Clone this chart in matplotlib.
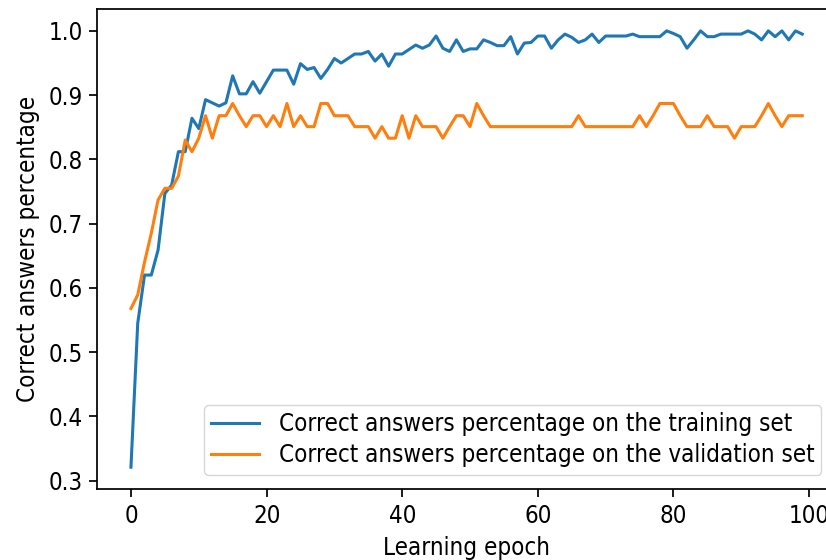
import matplotlib
matplotlib.use("Agg")
import matplotlib.pyplot as plt
from matplotlib import font_manager as fm

# 학습 곡선 값
epochs = list(range(100))
train_acc = [0.321, 0.545, 0.620, 0.620, 0.659, 0.747, 0.760, 0.812, 0.812, 0.864,
             0.848, 0.893, 0.888, 0.883, 0.888, 0.930, 0.902, 0.902, 0.921, 0.903,
             0.921, 0.939, 0.939, 0.939, 0.917, 0.949, 0.940, 0.943, 0.926, 0.940,
             0.957, 0.950, 0.957, 0.964, 0.964, 0.968, 0.953, 0.964, 0.945, 0.964,
             0.964, 0.971, 0.978, 0.973, 0.978, 0.992, 0.973, 0.968, 0.986, 0.968,
             0.972, 0.972, 0.986, 0.982, 0.977, 0.977, 0.991, 0.964, 0.981, 0.982,
             0.992, 0.992, 0.973, 0.986, 0.995, 0.990, 0.982, 0.986, 0.995, 0.982,
             0.992, 0.992, 0.992, 0.992, 0.995, 0.991, 0.991, 0.991, 0.991, 1.000,
             0.996, 0.991, 0.973, 0.986, 1.000, 0.991, 0.991, 0.995, 0.995, 0.995,
             0.995, 1.000, 0.995, 0.986, 1.000, 0.991, 1.000, 0.986, 1.000, 0.995]
val_acc = [0.568, 0.589, 0.640, 0.685, 0.737, 0.755, 0.755, 0.774, 0.830, 0.812,
           0.833, 0.868, 0.833, 0.868, 0.868, 0.887, 0.868, 0.851, 0.868, 0.868,
           0.851, 0.868, 0.851, 0.887, 0.851, 0.868, 0.851, 0.851, 0.887, 0.887,
           0.868, 0.868, 0.868, 0.851, 0.851, 0.851, 0.833, 0.851, 0.833, 0.833,
           0.868, 0.833, 0.868, 0.851, 0.851, 0.851, 0.833, 0.851, 0.868, 0.868,
           0.851, 0.887, 0.868, 0.851, 0.851, 0.851, 0.851, 0.851, 0.851, 0.851,
           0.851, 0.851, 0.851, 0.851, 0.851, 0.851, 0.868, 0.851, 0.851, 0.851,
           0.851, 0.851, 0.851, 0.851, 0.851, 0.868, 0.851, 0.868, 0.887, 0.887,
           0.887, 0.868, 0.851, 0.851, 0.851, 0.868, 0.851, 0.851, 0.851, 0.833,
           0.851, 0.851, 0.851, 0.868, 0.887, 0.868, 0.851, 0.868, 0.868, 0.868]

# 원본 글꼴이 가로로 좁아 보임 -> DejaVu Sans Condensed 있으면 사용
has_cond = any(f.name == "DejaVu Sans" and f.stretch in ("condensed", 700, "semi-condensed")
               for f in fm.fontManager.ttflist)
plt.rcParams["font.family"] = ["DejaVu Sans"]
if has_cond:
    plt.rcParams["font.stretch"] = "condensed"
    plt.rcParams["font.size"] = 17.3
else:
    plt.rcParams["font.size"] = 15.8
plt.rcParams["axes.linewidth"] = 1.25
plt.rcParams["axes.labelpad"] = 6
for a in ("xtick", "ytick"):
    plt.rcParams[f"{a}.major.size"] = 5.5
    plt.rcParams[f"{a}.major.width"] = 1.25
    plt.rcParams[f"{a}.major.pad"] = 5

fig = plt.figure(figsize=(8.26, 5.6), dpi=100)
# 오른쪽 테두리는 원본처럼 그림 밖으로 잘림
ax = fig.add_axes([0.1179, 0.1268, 0.894, 0.857])
ax.plot(epochs, train_acc, lw=2.2, label="Correct answers percentage on the training set")
ax.plot(epochs, val_acc, lw=2.2, label="Correct answers percentage on the validation set")
ax.set_xlabel("Learning epoch")
ax.set_ylabel("Correct answers percentage")
ax.legend(loc="lower right", borderaxespad=0.6, labelspacing=0.3, borderpad=0.3)
fig.savefig("out.png", dpi=100)
